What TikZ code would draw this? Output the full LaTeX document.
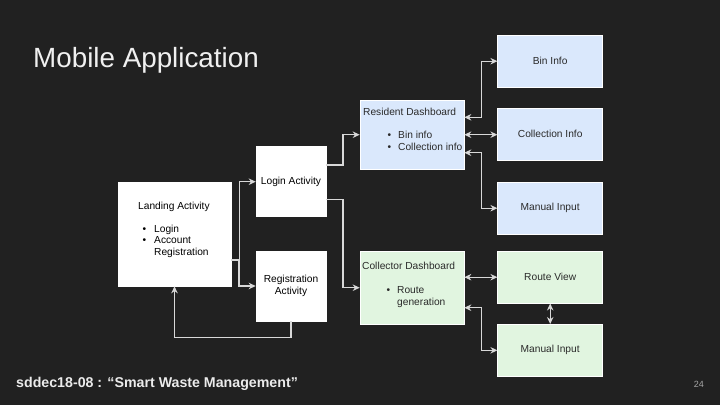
\documentclass[tikz,border=0pt]{standalone}
\usepackage{fontspec}
\setmainfont{Liberation Sans}
\usetikzlibrary{arrows.meta}
\definecolor{bg}{HTML}{212121}
\definecolor{bluebox}{HTML}{DAE8FC}
\definecolor{greenbox}{HTML}{E1F5E0}
\definecolor{linec}{HTML}{D8D8D8}
\definecolor{boxtext}{HTML}{2A2A2A}
\begin{document}
\begin{tikzpicture}[x=1pt,y=-1pt,
  whitebox/.style={draw=white,fill=white,line width=0.6pt,inner sep=0pt,minimum width=#1},
  bluenode/.style={draw=white,fill=bluebox,line width=0.6pt,inner sep=0pt,minimum width=105pt,minimum height=52pt,font=\fontsize{10.2}{12}\selectfont,text=boxtext},
  greennode/.style={draw=white,fill=greenbox,line width=0.6pt,inner sep=0pt,minimum width=105pt,minimum height=52pt,font=\fontsize{10.2}{12}\selectfont,text=boxtext},
  txt/.style={inner sep=0pt,anchor=base west,font=\fontsize{10.2}{12}\selectfont,text=black},
  arr/.style={draw=linec,line width=1.1pt,-{Stealth[length=7pt,width=6.5pt]}},
  darr/.style={draw=linec,line width=1.1pt,{Stealth[length=7pt,width=6.5pt]}-{Stealth[length=7pt,width=6.5pt]}}]
\fill[bg] (0,0) rectangle (720,405);
\useasboundingbox (0,0) rectangle (720,405);

% title and footer
\node[inner sep=0pt,anchor=base west,font=\fontsize{27.8}{30}\selectfont,text=white!94!black] (title) at (33,67.7) {Mobile Application};
\node[inner sep=0pt,anchor=base west,font=\bfseries\fontsize{14.2}{16}\selectfont,text=white!92!black] (footer) at (16,387) {sddec18-08 : “Smart Waste Management”};
\node[inner sep=0pt,anchor=base east,font=\fontsize{9}{11}\selectfont,text=white!65!black] (page) at (704,387) {24};

% white boxes
\node[whitebox=113pt,minimum height=104pt] (landing) at (174.5,234) {};
\node[whitebox=70pt,minimum height=70pt,font=\fontsize{10.2}{12}\selectfont] (login) at (291,181.7) {Login Activity};
\node[whitebox=70pt,minimum height=70pt,align=center,font=\fontsize{10.2}{12}\selectfont] (reg) at (291,286) {Registration\\Activity};

\node[txt] (landt) at (138,209.5) {Landing Activity};
\node[txt] (land1) at (142.5,232) {\makebox[11.5pt][l]{\textbullet}Login};
\node[txt] (land2) at (142.5,243.7) {\makebox[11.5pt][l]{\textbullet}Account};
\node[txt] (land3) at (154,255.4) {Registration};

% dashboards
\node[draw=white,fill=bluebox,line width=0.6pt,minimum width=104pt,minimum height=69pt] (resident) at (412,134.7) {};
\node[txt,text=boxtext] (rest) at (363,115.5) {Resident Dashboard};
\node[txt,text=boxtext] (res1) at (387.5,138.7) {\makebox[10.5pt][l]{\textbullet}Bin info};
\node[txt,text=boxtext] (res2) at (387.5,150.3) {\makebox[10.5pt][l]{\textbullet}Collection info};

\node[draw=white,fill=greenbox,line width=0.6pt,minimum width=104pt,minimum height=73pt] (collector) at (412,287.7) {};
\node[txt,text=boxtext] (colt) at (362,269.5) {Collector Dashboard};
\node[txt,text=boxtext] (col1) at (386.5,293.6) {\makebox[10.5pt][l]{\textbullet}Route};
\node[txt,text=boxtext] (col2) at (397,305) {generation};

% right column
\node[bluenode] (bininfo) at (550.2,61.2) {Bin Info};
\node[bluenode] (collinfo) at (550.2,134.2) {Collection Info};
\node[bluenode] (manual1) at (550.2,208.2) {Manual Input};
\node[greennode] (route) at (550.2,277.2) {Route View};
\node[greennode] (manual2) at (550.2,350.3) {Manual Input};

% connectors
\coordinate (lrstart) at (239,260);
\draw[arr] ([yshift=-26pt]landing.east) -- ++(8,0) |- (login.west);
\draw[arr] (lrstart) |- (reg.west);
\draw[arr] (reg.south) -- ++(0,16.5) -| (landing.south);
\draw[arr] ([yshift=16.7pt]login.east) -- ++(16.7,0) |- (resident.west);
\draw[arr] ([yshift=-17.6pt]login.east) -- ++(16.7,0) |- (collector.west);

\draw[darr] ([yshift=17.4pt]resident.east) -- ++(17,0) |- (bininfo.west);
\draw[darr] (resident.east) -- (resident.east -| collinfo.west);
\draw[darr] ([yshift=-18pt]resident.east) -- ++(17,0) |- (manual1.west);

\draw[darr] (route.west -| collector.east) -- (route.west);
\draw[darr] (route.south) -- (manual2.north);
\draw[darr] ([yshift=-20pt]collector.east) -- ++(17,0) |- (manual2.west);
\end{tikzpicture}
\end{document}
